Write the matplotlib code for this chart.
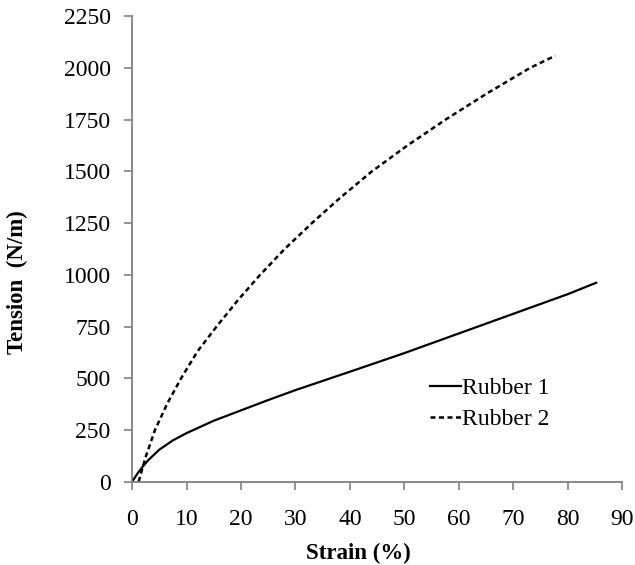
import matplotlib
matplotlib.use("Agg")
import matplotlib.pyplot as plt

# values
strain_1 = [0, 1, 2, 3, 5, 7.5, 10, 15, 20, 25, 30, 40, 50, 60, 70, 80, 85.2]
tension_1 = [0, 40, 75, 105, 155, 200, 235, 295, 345, 395, 443, 532, 622, 717, 812, 907, 962]

strain_2 = [1.2, 2.5, 4.2, 6.5, 9, 12, 15.5, 19.5, 23.5, 28, 33, 38.3, 44, 50.5, 57.5, 65, 73, 77.7]
tension_2 = [0, 120, 250, 380, 500, 630, 750, 880, 1000, 1125, 1250, 1375, 1500, 1625, 1750, 1875, 2000, 2060]

x_ticks = list(range(0, 91, 10))
y_ticks = list(range(0, 2251, 250))

plt.rcParams['font.family'] = ['Liberation Serif', 'DejaVu Serif']

fig = plt.figure(figsize=(6.35, 5.65), dpi=100)
ax = fig.add_axes([0.208, 0.1474, 0.772, 0.8236])

ax.plot(strain_1, tension_1, color='black', lw=1.6, label='Rubber 1')
ax.plot(strain_2, tension_2, color='black', lw=1.8, linestyle=(0, (2.0, 1.4)), label='Rubber 2')

ax.set_xlim(0, 90)
ax.set_ylim(0, 2250)
ax.set_xticks(x_ticks)
ax.set_yticks(y_ticks)
ax.tick_params(labelsize=17, color='#808080', length=6, width=1.2, direction='out')
ax.tick_params(axis='x', pad=14)
ax.tick_params(axis='y', pad=9.5)

for side in ['top', 'right']:
    ax.spines[side].set_visible(False)
for side in ['left', 'bottom']:
    ax.spines[side].set_color('#808080')
    ax.spines[side].set_linewidth(1.3)

ax.set_xlabel('Strain (%)', fontsize=16.5, fontweight='bold')
ax.set_ylabel('Tension  (N/m)', fontsize=16.5, fontweight='bold')
ax.xaxis.set_label_coords(0.461, -0.132)
ax.yaxis.set_label_coords(-0.213, 0.429)

ax.legend(loc='upper left', bbox_to_anchor=(0.565, 0.27), frameon=False, fontsize=17,
          handlelength=1.3, handletextpad=0.05, labelspacing=0.42)

fig.savefig('out.png', dpi=100)
